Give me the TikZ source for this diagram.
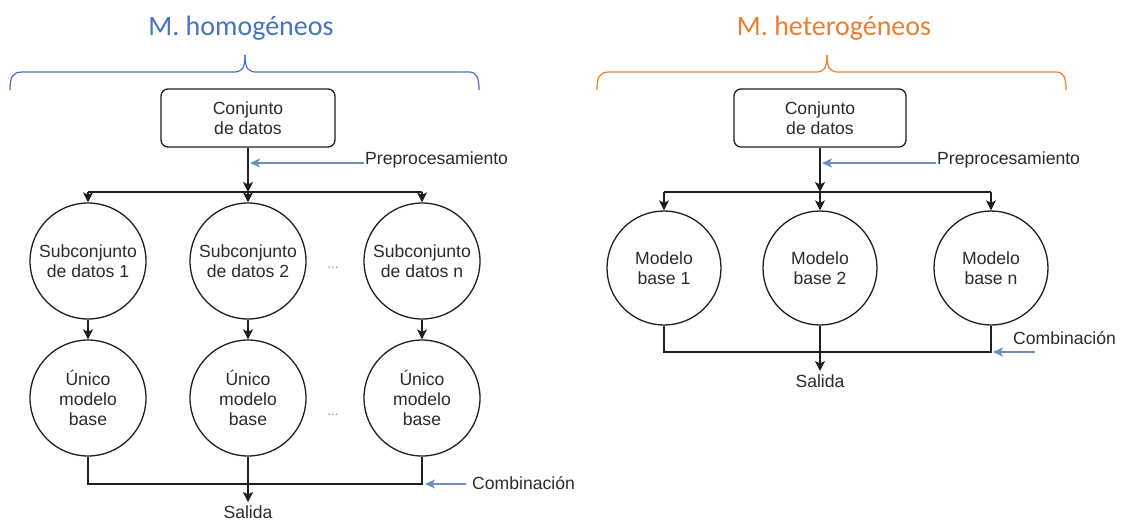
\documentclass[tikz,border=0pt]{standalone}
\usepackage{fontspec}
\newfontfamily\bodyfont{Liberation Sans}
\newfontfamily\titlefont{Carlito}
\usetikzlibrary{arrows.meta}
\definecolor{txt}{HTML}{2B2B2B}
\definecolor{hint}{HTML}{6C8EBF}
\definecolor{homo}{HTML}{4472C4}
\definecolor{hetero}{HTML}{ED7D31}

\begin{document}
\begin{tikzpicture}[x=1pt,y=-1pt,
  font=\bodyfont\fontsize{17.6}{20}\selectfont, text=txt,
  wire/.style={draw=black!88, line width=1.4pt},
  flow/.style={wire, -{Stealth[length=10pt,width=10pt,inset=2.5pt]}},
  note/.style={draw=hint, line width=1.1pt, -{Stealth[length=10pt,width=9pt,inset=2.5pt]}},
  ball/.style={circle, draw=black!88, line width=1.3pt, minimum size=116pt, inner sep=0pt, align=center},
  databox/.style={rectangle, rounded corners=7pt, draw=black!88, line width=1.3pt,
    minimum width=174pt, minimum height=58pt, inner sep=0pt, align=center},
  brace/.style={line width=1.2pt},
  heading/.style={font=\titlefont\fontsize{28}{32}\selectfont},
  dots/.style={text=black!45, font=\bodyfont\fontsize{13}{15}\selectfont},
  label/.style={anchor=west, inner sep=1pt}
]
\useasboundingbox (0,0) rectangle (1125,520);

% ---------------- homogeneous ensembles ----------------
\node[heading, text=homo] (tL) at (241,28) {M. homogéneos};
\draw[homo, brace] (10,90) .. controls (10,78) and (12,72) .. (22,72) -- (233,72)
  .. controls (241,72) and (245,70) .. (245,55);
\draw[homo, brace] (245,55) .. controls (245,70) and (249,72) .. (257,72) -- (469,72)
  .. controls (477,72) and (479,78) .. (479,90);

\node[databox] (dL) at (248,118) {Conjunto\\de datos};
\coordinate (sL) at (248,192);

\node[ball] (a1) at (88,261)  {Subconjunto\\de datos 1};
\node[ball] (a2) at (248,261) {Subconjunto\\de datos 2};
\node[ball] (a3) at (422,261) {Subconjunto\\de datos n};
\node[ball] (b1) at (88,398)  {Único\\modelo\\base};
\node[ball] (b2) at (248,398) {Único\\modelo\\base};
\node[ball] (b3) at (422,398) {Único\\modelo\\base};
\node[dots] (e1) at (333,268) {...};
\node[dots] (e2) at (333,415) {...};

\draw[flow] (dL.south) -- (sL);
\draw[wire] (a1.north |- sL) -- (a3.north |- sL);
\foreach \n in {a1,a2,a3} \draw[flow] (\n.north |- sL) -- (\n.north);
\draw[flow] (a1) -- (b1);
\draw[flow] (a2) -- (b2);
\draw[flow] (a3) -- (b3);

\node[label] (pL) at (364,160) {Preprocesamiento};
\coordinate (pLe) at (250,163);
\draw[note] (pL.west |- pLe) -- (pLe);

\coordinate (jL) at (248,484);
\draw[wire] (b1.south) -- (b1.south |- jL) -- (b3.south |- jL) -- (b3.south);
\draw[wire] (b2.south) -- (jL);
\node (oL) at (248,512) {Salida};
\draw[flow] (jL) -- (oL.north);

\node[label] (cL) at (471,483) {Combinación};
\coordinate (cLe) at (425,484);
\draw[note] (cL.west |- cLe) ++(-5,0) -- (cLe);

% ---------------- heterogeneous ensembles ----------------
\node[heading, text=hetero] (tR) at (834,28) {M. heterogéneos};
\draw[hetero, brace] (597,90) .. controls (597,78) and (599,72) .. (609,72) -- (815,72)
  .. controls (823,72) and (827,70) .. (827,55);
\draw[hetero, brace] (827,55) .. controls (827,70) and (831,72) .. (839,72) -- (1056,72)
  .. controls (1064,72) and (1066,78) .. (1066,90);

\node[databox, minimum width=172pt] (dR) at (820,118) {Conjunto\\de datos};
\coordinate (sR) at (820,192);

\node[ball, minimum size=114pt] (m1) at (664,268) {Modelo\\base 1};
\node[ball, minimum size=114pt] (m2) at (820,268) {Modelo\\base 2};
\node[ball, minimum size=114pt] (m3) at (991,268) {Modelo\\base n};

\draw[flow] (dR.south) -- (sR);
\draw[wire] (m1.north |- sR) -- (m3.north |- sR);
\foreach \n in {m1,m2,m3} \draw[flow] (\n.north |- sR) -- (\n.north);

\node[label] (pR) at (936,160) {Preprocesamiento};
\coordinate (pRe) at (822,163);
\draw[note] (pR.west |- pRe) -- (pRe);

\coordinate (jR) at (820,352);
\draw[wire] (m1.south) -- (m1.south |- jR) -- (m3.south |- jR) -- (m3.south);
\draw[wire] (m2.south) -- (jR);
\node (oR) at (820,381) {Salida};
\draw[flow] (jR) -- (oR.north);

\node[label] (cR) at (1012,338) {Combinación};
\coordinate (cRa) at (1035,352);
\coordinate (cRe) at (993,352);
\draw[note] (cRa) -- (cRe);
\end{tikzpicture}
\end{document}
